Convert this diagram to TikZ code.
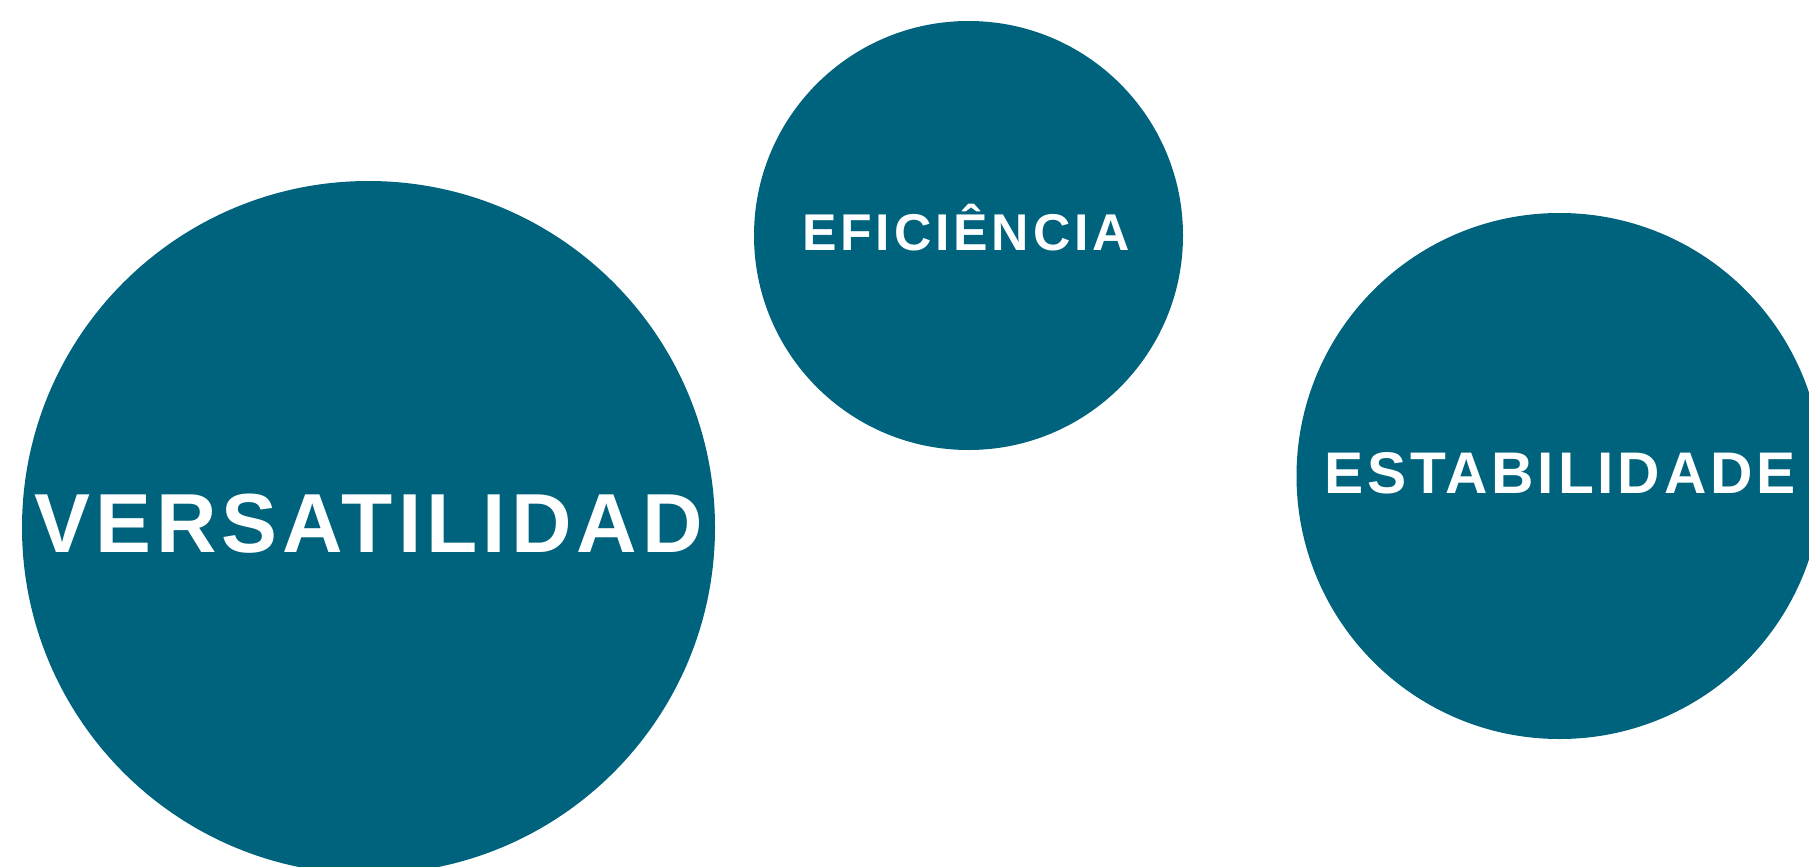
\documentclass[tikz,border=0pt]{standalone}
\usepackage{fontspec}
\setmainfont{Liberation Sans}
\newfontfamily\trackbig[LetterSpace=6.0]{Liberation Sans}
\newfontfamily\trackmid[LetterSpace=6.5]{Liberation Sans}
\newfontfamily\tracksmall[LetterSpace=7.5]{Liberation Sans}
\definecolor{teal}{HTML}{00637D}
\tikzset{
  blob/.style={circle, fill=teal, draw=none, inner sep=0pt},
  word/.style={text=white, inner sep=0pt, anchor=base}
}
\begin{document}
\begin{tikzpicture}[x=1pt, y=-1pt]
\useasboundingbox (0,0) rectangle (1809,867);
\clip (0,0) rectangle (1809,867);
\node[blob, minimum size=693pt] (cvers) at (368.5,527.5) {};
\node[blob, minimum size=429pt] (cefic) at (968.5,235.5) {};
\node[blob, minimum size=526pt] (cestab) at (1559.5,476) {};
\node[word, font={\trackbig\bfseries\fontsize{83.8}{90}\selectfont}] (tvers) at (368.5,552) {VERSATILIDAD};
\node[word, font={\tracksmall\bfseries\fontsize{51.7}{60}\selectfont}] (tefic) at (966,250) {EFICIÊNCIA};
\node[word, font={\trackmid\bfseries\fontsize{58.7}{66}\selectfont}] (testab) at (1560,493) {ESTABILIDADE};
\end{tikzpicture}
\end{document}
